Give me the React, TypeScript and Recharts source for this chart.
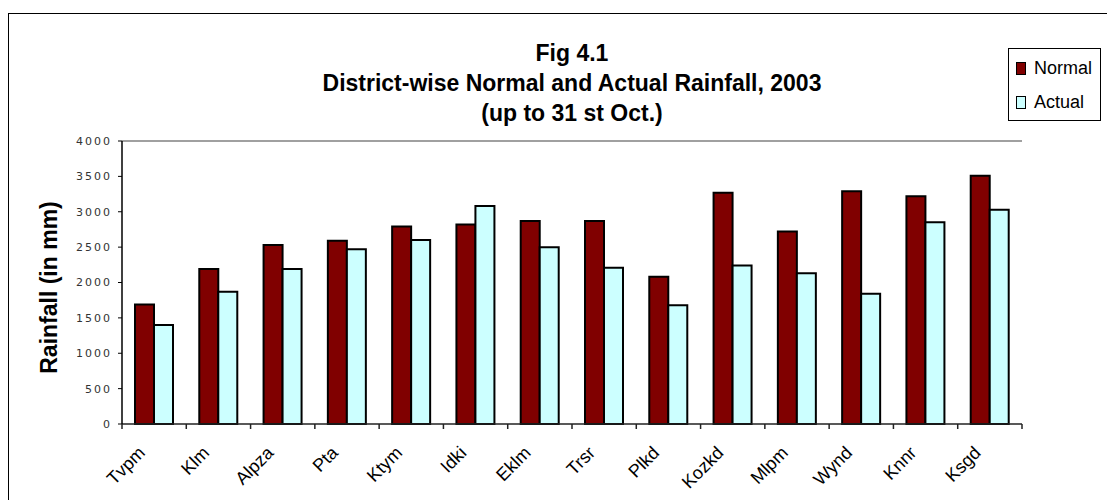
import { BarChart, Bar, XAxis, YAxis, ReferenceLine } from "recharts"

// ── Data ─────────────────────────────────────────────────────────────────────
const DISTRICTS = ["Tvpm", "Klm", "Alpza", "Pta", "Ktym", "Idki", "Eklm", "Trsr", "Plkd", "Kozkd", "Mlpm", "Wynd", "Knnr", "Ksgd"]
const NORMAL = [1690, 2190, 2530, 2590, 2790, 2820, 2870, 2870, 2080, 3270, 2720, 3290, 3220, 3510]
const ACTUAL = [1400, 1870, 2190, 2470, 2600, 3080, 2500, 2210, 1680, 2240, 2130, 1840, 2850, 3030]
const Y_TICKS = [0, 500, 1000, 1500, 2000, 2500, 3000, 3500, 4000]
const TITLE_LINES = ["Fig 4.1", "District-wise Normal and Actual Rainfall, 2003", "(up to 31 st Oct.)"]
const Y_LABEL = "Rainfall (in mm)"

const SERIES = [
  { key: "normal", name: "Normal", color: "#800000" },
  { key: "actual", name: "Actual", color: "#CCFFFF" },
]

const data = DISTRICTS.map((district, i) => ({ district, normal: NORMAL[i], actual: ACTUAL[i] }))

const FONT = "'Liberation Sans', Arial, sans-serif"
const W = 1107
const H = 500

// ── Axis pieces ──────────────────────────────────────────────────────────────
// category label rotated 45°, plus Excel-style tick marks on the band edges
function DistrictTick(props: any) {
  const { x, y, payload, index } = props
  const half = payload?.offset || 900 / DISTRICTS.length / 2
  const last = index === DISTRICTS.length - 1
  const tx = x - 8
  const ty = y + 30
  return (
    <g>
      <line x1={x - half} y1={y} x2={x - half} y2={y + 5} stroke="#222" strokeWidth={1.5} />
      {last && <line x1={x + half} y1={y} x2={x + half} y2={y + 5} stroke="#222" strokeWidth={1.5} />}
      <text
        x={tx}
        y={ty}
        transform={`rotate(-45, ${tx}, ${ty})`}
        textAnchor="end"
        fontSize={18}
        fontFamily={FONT}
        fill="#000"
      >
        {payload.value}
      </text>
    </g>
  )
}

function YLabel(props: any) {
  const vb = props.viewBox || { x: 62, y: 141, width: 60, height: 283 }
  const x = vb.x - 5
  const y = vb.y + vb.height / 2 + 5
  return (
    <text
      x={x}
      y={y}
      transform={`rotate(-90, ${x}, ${y})`}
      textAnchor="middle"
      fontSize={23}
      fontWeight="bold"
      fontFamily={FONT}
      fill="#000"
    >
      {Y_LABEL}
    </text>
  )
}

export default function App() {
  return (
    <div
      style={{
        position: "absolute",
        left: 0,
        top: 0,
        width: W,
        height: H,
        overflow: "hidden",
        background: "#fff",
        fontFamily: FONT,
      }}
    >
      {/* outer frame (only top/left edges are in view) */}
      <div
        style={{
          position: "absolute",
          left: 8,
          top: 13,
          width: W + 50,
          height: H + 50,
          borderLeft: "1px solid #000",
          borderTop: "1px solid #000",
        }}
      />

      <BarChart
        width={W}
        height={H}
        data={data}
        margin={{ top: 141, right: 85, left: 62, bottom: 16 }}
        barCategoryGap={13}
        barGap={0}
        style={{ position: "absolute", left: 0, top: 0 }}
      >
        <XAxis
          dataKey="district"
          interval={0}
          height={60}
          tickSize={0}
          tickMargin={0}
          tickLine={false}
          axisLine={{ stroke: "#222", strokeWidth: 1.5 }}
          tick={<DistrictTick />}
        />
        <YAxis
          domain={[0, 4000]}
          ticks={Y_TICKS}
          interval={0}
          width={60}
          tickSize={4}
          tickMargin={6}
          axisLine={{ stroke: "#000", strokeWidth: 1.5 }}
          tickLine={{ stroke: "#000" }}
          tick={{ fontSize: 11, fill: "#333", fontFamily: "'DejaVu Sans'", letterSpacing: 2 }}
          label={{ content: YLabel }}
        />
        <YAxis
          yAxisId="frame"
          orientation="right"
          domain={[0, 4000]}
          width={0}
          tick={false}
          tickLine={false}
          axisLine={{ stroke: "#a0a0a0", strokeWidth: 2 }}
        />
        <ReferenceLine y={4000} stroke="#a0a0a0" strokeWidth={2} />
        {SERIES.map((s) => (
          <Bar
            key={s.key}
            dataKey={s.key}
            name={s.name}
            fill={s.color}
            stroke="#000"
            strokeWidth={2}
            isAnimationActive={false}
          />
        ))}
      </BarChart>

      {/* title */}
      <div
        style={{
          position: "absolute",
          left: 272,
          top: 38,
          width: 600,
          textAlign: "center",
          fontSize: 23,
          fontWeight: "bold",
          lineHeight: "30px",
          color: "#000",
        }}
      >
        {TITLE_LINES.map((t) => (
          <div key={t}>{t}</div>
        ))}
      </div>

      {/* legend */}
      <div
        style={{
          position: "absolute",
          left: 1008,
          top: 48,
          width: 91,
          height: 71,
          border: "1px solid #000",
          background: "#fff",
        }}
      >
        {SERIES.map((s, i) => (
          <div
            key={s.key}
            style={{
              position: "absolute",
              left: 7,
              top: 9 + i * 34,
              fontSize: 18,
              lineHeight: "20px",
              whiteSpace: "nowrap",
            }}
          >
            <span
              style={{
                display: "inline-block",
                width: 8,
                height: 11,
                border: "1px solid #000",
                background: s.color,
                marginRight: 8,
                verticalAlign: -1,
              }}
            />
            {s.name}
          </div>
        ))}
      </div>
    </div>
  )
}
